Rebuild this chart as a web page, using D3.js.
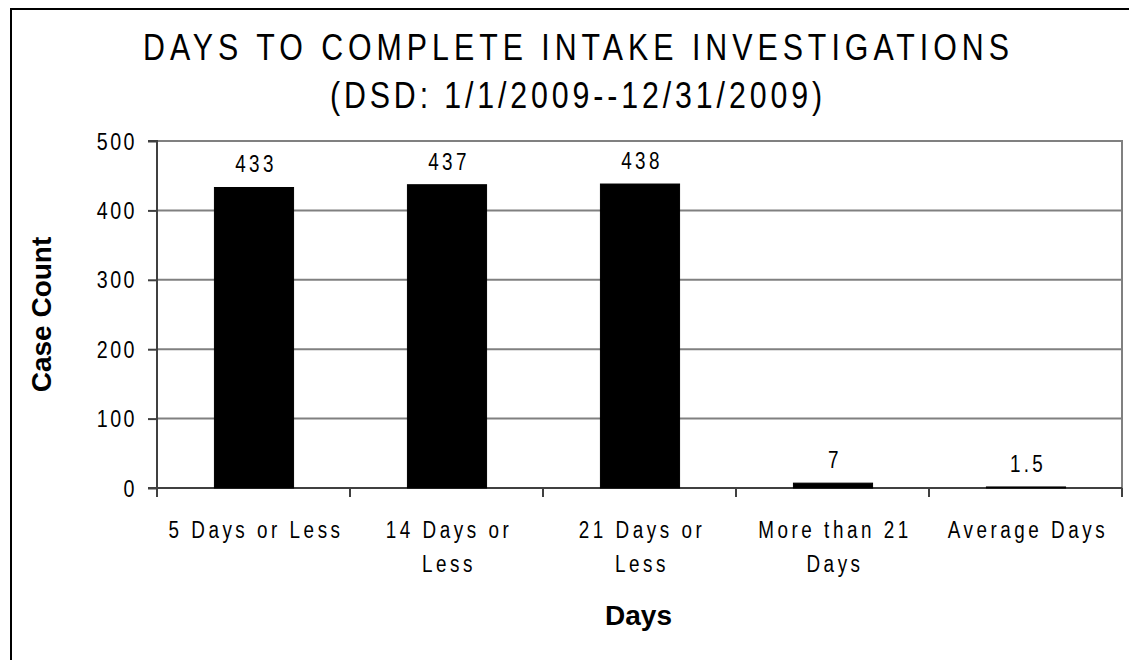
<!DOCTYPE html>
<html>
<head>
<meta charset="utf-8">
<script src="https://cdn.jsdelivr.net/npm/d3@7/dist/d3.min.js"></script>
<style>
  html, body { margin: 0; padding: 0; background: #fff; }
  svg { display: block; }
  .narrow { font-family: "Liberation Sans", Arial, sans-serif; }
  .bold { font-family: "Liberation Sans", Arial, sans-serif; font-weight: bold; }
</style>
</head>
<body>
<svg id="chart" width="1129" height="660"></svg>
<script>
const titleLines = ["DAYS TO COMPLETE INTAKE INVESTIGATIONS", "(DSD: 1/1/2009--12/31/2009)"];
const categories = ["5 Days or Less", "14 Days or Less", "21 Days or Less", "More than 21 Days", "Average Days"];
const values = [433, 437, 438, 7, 1.5];
const valueLabels = ["433", "437", "438", "7", "1.5"];
const yTicks = [0, 100, 200, 300, 400, 500];
const yTitle = "Case Count";
const xTitle = "Days";

const SX = 0.82; // horizontal condensing to imitate a narrow face
const svg = d3.select("#chart");
const W = 1129, H = 660;
const margin = { left: 157, right: 1122, top: 141, bottom: 488 };

svg.append("rect").attr("width", W).attr("height", H).attr("fill", "#fff");
svg.append("rect").attr("x", 11).attr("y", 9).attr("width", W + 20).attr("height", H + 20)
  .attr("fill", "none").attr("stroke", "#000").attr("stroke-width", 2);

const x = d3.scaleBand().domain(categories).range([margin.left, margin.right]).padding(0);
const y = d3.scaleLinear().domain([0, 500]).range([margin.bottom, margin.top]);

function narrowText(parent, px, py, str, size, ls, anchor) {
  const g = parent.append("g").attr("transform", `translate(${px},${py}) scale(${SX},1)`);
  const t = g.append("text").attr("class", "narrow").attr("x", 0).attr("y", 0)
    .attr("font-size", size).attr("letter-spacing", ls).attr("fill", "#000")
    .attr("text-anchor", anchor);
  if (str !== null) t.text(str);
  return t;
}

// gridlines
svg.append("g").selectAll("line").data(yTicks.filter(d => d > 0)).join("line")
  .attr("x1", margin.left).attr("x2", margin.right)
  .attr("y1", d => y(d)).attr("y2", d => y(d))
  .attr("stroke", "#808080").attr("stroke-width", 2);

svg.append("line").attr("x1", margin.right).attr("x2", margin.right)
  .attr("y1", margin.top - 1).attr("y2", margin.bottom)
  .attr("stroke", "#808080").attr("stroke-width", 2);

// y axis
const yAxis = d3.axisLeft(y).tickValues(yTicks).tickSize(9).tickFormat("");
const gy = svg.append("g").attr("transform", `translate(${margin.left},0)`).call(yAxis);
gy.select(".domain").attr("stroke", "#404040").attr("stroke-width", 2).attr("d", `M-9,${margin.top}H0V${margin.bottom}`);
gy.selectAll(".tick line").attr("stroke", "#404040").attr("stroke-width", 2);
const yl = svg.append("g");
yTicks.forEach(v => {
  narrowText(yl, 137, y(v), d3.format("d")(v), 24, 3, "end").attr("dy", "0.36em");
});

// x axis
const xAxis = d3.axisBottom(x).tickSize(0).tickFormat("");
const gx = svg.append("g").attr("transform", `translate(0,${margin.bottom})`).call(xAxis);
gx.select(".domain").attr("stroke", "#404040").attr("stroke-width", 2).attr("d", `M${margin.left - 9},0H${margin.right}`);
const boundaries = categories.map(c => x(c)).concat([margin.right]);
gx.selectAll(".bound").data(boundaries).join("line").attr("class", "bound")
  .attr("x1", d => d).attr("x2", d => d).attr("y1", 0).attr("y2", 9)
  .attr("stroke", "#404040").attr("stroke-width", 2);

// bars
const barW = x.bandwidth() * 0.41;
svg.append("g").selectAll("rect").data(categories).join("rect")
  .attr("x", (d) => x(d) + x.bandwidth() / 2 - barW / 2 + 0.5)
  .attr("width", barW)
  .attr("y", (d, i) => y(values[i]))
  .attr("height", (d, i) => y(0) - y(values[i]))
  .attr("fill", "#000").attr("stroke", "#000").attr("stroke-width", 1);

// data labels
const dl = svg.append("g");
categories.forEach((c, i) => {
  narrowText(dl, x(c) + x.bandwidth() / 2 + 2.5, y(values[i]) - 15, valueLabels[i], 23, 4, "middle");
});

// category labels with wrapping
const catG = svg.append("g");
const maxW = x.bandwidth() - 8;
categories.forEach(c => {
  const cx = x(c) + x.bandwidth() / 2 + 2.5;
  const t = narrowText(catG, cx, 538, null, 23, 4.3, "middle");
  const words = c.split(" ");
  let line = [];
  let ts = t.append("tspan").attr("x", 0).attr("dy", 0);
  words.forEach(w => {
    line.push(w);
    ts.text(line.join(" "));
    if (ts.node().getComputedTextLength() * SX > maxW && line.length > 1) {
      line.pop();
      ts.text(line.join(" "));
      line = [w];
      ts = t.append("tspan").attr("x", 0).attr("dy", 34.5).text(w);
    }
  });
});

// titles
const titleY = [60, 108];
const titleLen = [866, 492];
titleLines.forEach((s, i) => {
  narrowText(svg, 576, titleY[i], s, 37, 0, "middle")
    .attr("textLength", titleLen[i] / SX).attr("lengthAdjust", "spacing");
});

// axis titles
svg.append("text").attr("class", "bold")
  .attr("transform", `translate(51,${(margin.top + margin.bottom) / 2}) rotate(-90)`)
  .attr("text-anchor", "middle").attr("font-size", 28).attr("fill", "#000").text(yTitle);
svg.append("text").attr("class", "bold")
  .attr("x", (margin.left + margin.right) / 2 - 1).attr("y", 625)
  .attr("text-anchor", "middle").attr("font-size", 28).attr("fill", "#000").text(xTitle);
</script>
</body>
</html>
